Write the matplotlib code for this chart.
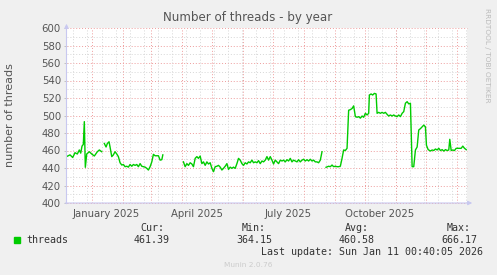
import matplotlib
matplotlib.use("Agg")
import matplotlib.pyplot as plt
import numpy as np
import datetime as dt

# ---- data ----
start = dt.datetime(2024, 12, 7, 0, 40)
end = dt.datetime(2026, 1, 11, 0, 40)

# day offsets from start, and thread counts, per continuous segment
seg1_days = [0, 3.5, 6.2, 8.5, 10.8, 12.8, 14.2, 15.5, 16.8, 17.8, 18.8, 20.2, 22.8, 25.2,
             27.8, 30.8, 32.8, 35.2]
seg1_vals = [453, 455, 452, 457.5, 456, 460.6, 457, 465, 467, 493, 440.8, 456, 458.6, 456,
             453.7, 458.6, 460.6, 458.6]

seg2_days = [37.8, 39.5, 40.8, 42.5, 43.5, 45.2, 46.8, 48.5, 50.2, 51.8, 53.5, 55.2, 56.8,
             58.5, 60.2, 61.8, 63.5, 65.2, 66.8, 68.5, 70.2, 71.8, 73.5, 75.2, 76.8, 78.5,
             80.2, 81.8, 83.5, 85.2, 86.8, 88.5, 90.2, 91.8, 93.5, 95.2, 96.2]
seg2_vals = [468, 464, 468, 470, 464, 453, 455, 458.6, 456, 453, 446, 443.4, 444, 441.5,
             442, 441, 444, 442, 444, 443, 444, 441.5, 445, 442, 441.5, 441, 439.6, 437.7,
             441.5, 447, 455.6, 454, 454, 454, 449, 449.5, 455]

seg3_days = [116.8, 118.5, 120.2, 121.8, 123.5, 125.2, 126.8, 128.5, 130.2, 131.8, 133.5,
             135.2, 136.8, 138.5, 140.2, 141.8, 143.5, 145.2, 146.8, 148.5, 150.2, 151.8,
             153.5, 155.2, 156.8, 158.5, 160.2, 161.8, 163.5, 165.2, 166.8, 168.5, 170.2,
             171.8, 173.5, 175.2, 176.8, 178.5, 180.2, 181.8, 183.5, 185.2, 186.8, 188.5,
             190.2, 191.8, 193.5, 195.2, 196.8, 198.5, 200.2, 201.8, 203.5, 205.2, 206.8,
             208.5, 210.2, 211.8, 213.5, 215.2, 216.8, 218.5, 220.2, 221.8, 223.5, 225.2,
             226.8, 228.5, 230.2, 231.8, 233.5, 235.2, 236.8, 238.5, 240.2, 241.8, 243.5,
             245.2, 246.8, 248.5, 250.2, 251.8, 253.5, 255.2]
seg3_vals = [447, 441.5, 445, 443, 446, 444.6, 441.5, 451, 453, 451, 453.7, 445, 447, 443,
             447, 444.6, 446, 439.6, 435.8, 441.5, 442, 443, 441, 437.7, 439.6, 442, 445,
             438.4, 441, 439.6, 441, 439.6, 445, 451, 449, 445, 443, 446, 444.6, 447, 446,
             449, 446, 447, 446, 448.4, 445, 448, 447, 449, 453, 449, 453, 449, 444.6, 449,
             447, 445, 449, 448, 449, 447, 449.5, 448, 451, 447, 449, 448, 447, 449.5, 447,
             449, 450, 448, 449.5, 448, 450, 448, 449, 447, 447, 446, 449, 458.6]

seg4_days = [259.2, 261.8, 263.5, 265.2, 266.8, 268.5, 270.2, 271.8, 273.5, 275.2, 276.8,
             278.5, 280.2, 281.8, 283.5, 285.2, 286.8, 288.5, 290.2, 291.8, 293.5, 295.2,
             296.8, 298.5, 300.2, 301.8, 302.5, 304.2, 305.8, 307.5, 309.2, 310.2, 311.8,
             313.5, 315.2, 316.8, 318.5, 320.2, 321.8, 323.5, 325.2, 326.8, 328.5, 330.2,
             331.8, 333.5, 335.2, 336.8, 338.5, 340.2, 341.8, 343.5, 345.2, 346.8, 348.5,
             350.2, 351.8, 353.5, 355.2, 356.8, 358.5, 359.5, 361.2, 363.5, 365.2, 366.8,
             368.5, 370.2, 371.8, 373.5, 375.2, 376.8, 378.5, 380.2, 381.8, 382.8, 384.2,
             385.8, 387.5, 389.2, 390.8, 392.5, 394.2, 395.8, 397.5, 399.2]
seg4_vals = [440.8, 442, 441.5, 443.4, 441.5, 442, 441.5, 441.5, 442, 451, 460.6, 460,
             462.5, 506, 506.7, 508, 511, 498.7, 498, 498.7, 497, 499.4, 498, 502.5, 500.6,
             502.5, 523.4, 524.6, 523.4, 525.3, 524.6, 502.5, 503.6, 502.5, 503.6, 502.5,
             503.6, 501.3, 499.4, 500.6, 499.4, 500.6, 499.4, 498.7, 500.6, 498.7, 502.5,
             504.4, 514, 515.8, 513.3, 514, 441.5, 441.5, 460.6, 464, 483.4, 485, 487, 489,
             487, 466, 461, 459.4, 460.6, 460, 461.7, 460.6, 462.5, 460, 461, 459.4, 461,
             460, 460.6, 472.8, 460, 460.6, 460, 462.5, 462.5, 462.5, 462.5, 465, 462.5, 461]

series_label = "threads"
stat_names = ["Cur:", "Min:", "Avg:", "Max:"]
stat_values = ["461.39", "364.15", "460.58", "666.17"]
month_labels = ["January 2025", "April 2025", "July 2025", "October 2025"]
title = "Number of threads - by year"
ylabel = "number of threads"
last_update = "Last update: Sun Jan 11 00:40:05 2026"

# ---- build series ----
xs, ys = [], []
for d, v in [(seg1_days, seg1_vals), (seg2_days, seg2_vals),
             (seg3_days, seg3_vals), (seg4_days, seg4_vals)]:
    xs += [start + dt.timedelta(days=x) for x in d] + [start + dt.timedelta(days=d[-1] + 0.5)]
    ys += list(v) + [np.nan]

W, H = 497, 275
fig = plt.figure(figsize=(W / 100, H / 100), dpi=100)
fig.patch.set_facecolor("#F0F0F0")
x0, x1, ytop, ybot = 66.5, 467, 28, 203
ax = fig.add_axes([x0 / W, 1 - ybot / H, (x1 - x0) / W, (ybot - ytop) / H])
ax.set_facecolor("white")
ax.set_xlim(start, end)
ax.set_ylim(400, 600)
for s in ax.spines.values():
    s.set_visible(False)

major_c = "#EE9C9C"
minor_c = "#D6D6D6"
# horizontal grid
for v in np.arange(410, 600, 20):
    ax.axhline(v, color=minor_c, lw=0.7, ls=(0, (1, 2)), zorder=1)
for v in np.arange(400, 601, 20):
    ax.axhline(v, color=major_c, lw=0.7, ls=(0, (1, 2)), zorder=1, clip_on=False)
# vertical grid: biweekly minor, monthly major
d = dt.datetime(2024, 12, 14)
while d < end:
    ax.axvline(d, color=minor_c, lw=0.7, ls=(0, (1, 2)), zorder=1)
    d += dt.timedelta(days=14)
for y in (2024, 2025, 2026):
    for m in range(1, 13):
        md = dt.datetime(y, m, 1)
        if start < md < end:
            ax.axvline(md, color=major_c, lw=0.7, ls=(0, (1, 2)), zorder=1)

ax.plot(xs, ys, color="#00CC00", lw=1.0, zorder=3)

# ticks
ax.set_yticks(np.arange(400, 601, 20))
ax.tick_params(axis="y", length=2, width=0.6, color="#BBBBBB", labelsize=7.3,
               labelcolor="#555555", pad=2)
label_dates = [dt.datetime(2025, 1, 16), dt.datetime(2025, 4, 16),
               dt.datetime(2025, 7, 16), dt.datetime(2025, 10, 16)]
ax.set_xticks(label_dates)
ax.set_xticklabels(month_labels)
ax.tick_params(axis="x", length=0, labelsize=7.3, labelcolor="#555555", pad=4)

# axis arrows
axc = "#C8C8F0"
ax.annotate("", xy=(0, 1.04), xytext=(0, -0.02), xycoords="axes fraction",
            arrowprops=dict(arrowstyle="-|>", color=axc, lw=0.8, mutation_scale=6),
            annotation_clip=False)
ax.annotate("", xy=(1.02, 0), xytext=(-0.01, 0), xycoords="axes fraction",
            arrowprops=dict(arrowstyle="-|>", color=axc, lw=0.8, mutation_scale=6),
            annotation_clip=False)

# title and texts
fig.text(248 / W, 1 - 18 / H, title, ha="center", va="center", fontsize=8.6, color="#555555")
fig.text(10 / W, 1 - 115 / H, ylabel, rotation=90, ha="center", va="center", fontsize=8,
         color="#555555")
fig.text(487 / W, 1 - 55 / H, "RRDTOOL / TOBI OETIKER", rotation=270, ha="center",
         va="center", fontsize=5.3, color="#BBBBBB")
fig.text(248 / W, 1 - 265 / H, "Munin 2.0.76", ha="center", va="center", fontsize=5.3,
         color="#CCCCCC")

mono = "DejaVu Sans Mono"
fig.patches.append(plt.Rectangle((14 / W, 1 - 242.5 / H), 5.5 / W, 5.5 / H,
                                 transform=fig.transFigure, color="#00CC00"))
fig.text(26 / W, 1 - 240 / H, series_label, ha="left", va="center", fontsize=7.2,
         family=mono, color="#333333")
centers = [152, 254, 357, 459]
for c, n, v in zip(centers, stat_names, stat_values):
    fig.text(c / W, 1 - 228 / H, n, ha="center", va="center", fontsize=7.2, family=mono,
             color="#333333")
    fig.text(c / W, 1 - 240 / H, v, ha="center", va="center", fontsize=7.2, family=mono,
             color="#333333")
fig.text(483 / W, 1 - 252 / H, last_update, ha="right", va="center", fontsize=7.2,
         family=mono, color="#333333")

fig.savefig("out.png", dpi=100, facecolor=fig.get_facecolor())
